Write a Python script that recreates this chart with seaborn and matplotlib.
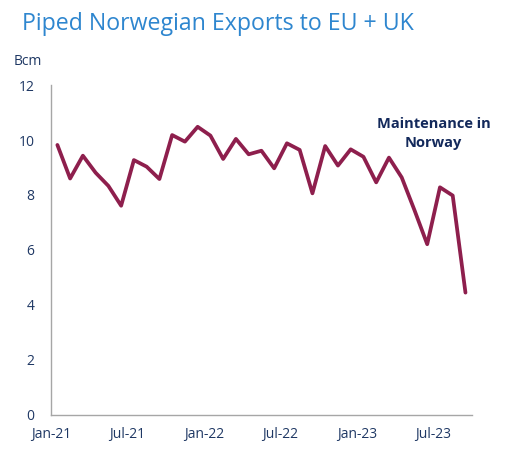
import matplotlib
matplotlib.use('Agg')
import matplotlib.pyplot as plt
import numpy as np
import pandas as pd
import seaborn as sns

# monthly piped exports, Jan-21 .. Sep-23 (Bcm)
months = pd.date_range('2021-01-01', '2023-09-01', freq='MS')
exports = [9.82, 8.60, 9.43, 8.81, 8.33, 7.61, 9.27, 9.03, 8.58, 10.18, 9.94, 10.48,
           10.16, 9.31, 10.04, 9.48, 9.61, 8.97, 9.88, 9.64, 8.06, 9.78, 9.07, 9.66,
           9.39, 8.46, 9.36, 8.64, 7.45, 6.21, 8.28, 7.98, 4.45]
tick_months = ['Jan-21', 'Jul-21', 'Jan-22', 'Jul-22', 'Jan-23', 'Jul-23']
y_ticks = [0, 2, 4, 6, 8, 10, 12]

line_color = '#8E1F4D'
navy = '#1F3864'
title_blue = '#2E86CF'

sns.set_style('white')
plt.rcParams['font.family'] = ['Open Sans', 'DejaVu Sans']

df = pd.DataFrame({'idx': np.arange(len(months)), 'exports': exports})

fig = plt.figure(figsize=(5.09, 4.59), dpi=100)
ax = fig.add_axes([0.1002, 0.0959, 0.8268, 0.7189])
sns.lineplot(data=df, x='idx', y='exports', ax=ax, color=line_color, linewidth=2.7)

# ticks sit between categories, Excel style
labels = [m.strftime('%b-%y') for m in months]
tick_pos = [labels.index(t) - 0.5 for t in tick_months]
ax.set_xlim(-0.5, len(months) - 0.5)
ax.set_xticks(tick_pos)
ax.set_xticklabels(tick_months)
ax.set_ylim(0, 12)
ax.set_yticks(y_ticks)
ax.set_xlabel('')
ax.set_ylabel('')

for s in ['top', 'right']:
    ax.spines[s].set_visible(False)
for s in ['left', 'bottom']:
    ax.spines[s].set_color('#A6A6A6')
    ax.spines[s].set_linewidth(1.0)
ax.tick_params(axis='both', colors='#A6A6A6', length=4, width=1, direction='out',
               labelcolor=navy, labelsize=10)
ax.tick_params(axis='x', pad=5)
ax.tick_params(axis='y', pad=8)

fig.text(0.043, 0.948, 'Piped Norwegian Exports to EU + UK', color=title_blue,
         fontsize=16.7, va='center', ha='left')
fig.text(0.027, 0.866, 'Bcm', color=navy, fontsize=10, va='center', ha='left')
ax.text(labels.index('Jul-23') - 0.5, 10.25, 'Maintenance in\nNorway', color='#13295B',
        fontsize=10.5, fontweight='bold', ha='center', va='center', linespacing=1.45)

fig.savefig('out.png', dpi=100)
